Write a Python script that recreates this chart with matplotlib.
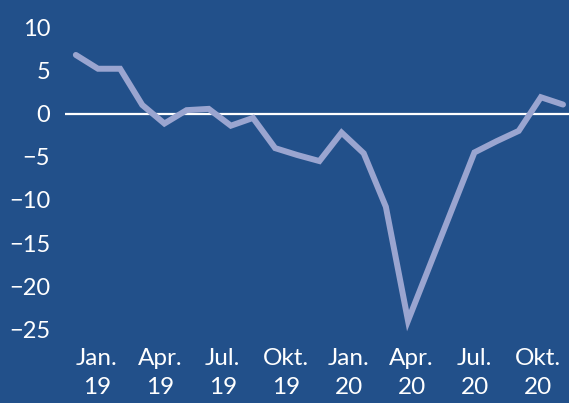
import matplotlib
matplotlib.use("Agg")
import matplotlib.pyplot as plt
import numpy as np

# Monthly values, Jan 2019 .. Nov 2020
months = ["Jan 19", "Feb 19", "Mar 19", "Apr 19", "May 19", "Jun 19", "Jul 19", "Aug 19",
          "Sep 19", "Oct 19", "Nov 19", "Dec 19", "Jan 20", "Feb 20", "Mar 20", "Apr 20",
          "May 20", "Jun 20", "Jul 20", "Aug 20", "Sep 20", "Oct 20", "Nov 20"]
values = [6.8, 5.2, 5.2, 1.0, -1.15, 0.4, 0.55, -1.4, -0.5, -4.0, -4.8, -5.5,
          -2.2, -4.6, -10.8, -24.0, -17.5, -11.0, -4.5, -3.2, -2.0, 1.9, 1.05]
tick_labels = ["Jan.\n19", "Apr.\n19", "Jul.\n19", "Okt.\n19",
               "Jan.\n20", "Apr.\n20", "Jul.\n20", "Okt.\n20"]
y_ticks = [10, 5, 0, -5, -10, -15, -20, -25]

BG = "#22508a"
LINE = "#9aa5d0"

plt.rcParams['font.family'] = ['Lato', 'DejaVu Sans']

fig = plt.figure(figsize=(5.69, 4.03), dpi=100, facecolor=BG)
ax = fig.add_axes([0.115, 0.140, 0.885, 0.835])
ax.set_facecolor(BG)

x = np.arange(len(values))
x0, x1 = -0.47, 22.27
ax.set_xlim(x0, x1)
ax.set_ylim(-27, 12)

ax.axhline(0, color="white", lw=1.6, zorder=1)
ax.plot(x, values, color=LINE, lw=4.3, solid_capstyle='round', solid_joinstyle='miter', zorder=2)

slot = (x1 - x0) / len(tick_labels)
ax.set_xticks([x0 + (k + 0.5) * slot for k in range(len(tick_labels))])
ax.set_xticklabels(tick_labels, fontsize=17.5, color="white", linespacing=1.45, multialignment='center')
ax.set_yticks(y_ticks)
ax.set_yticklabels([f"{v}".replace("-", "\u2212") for v in y_ticks], fontsize=17, color="white")
ax.tick_params(axis='both', length=0)
ax.tick_params(axis='x', pad=1)
ax.tick_params(axis='y', pad=11)

for s in ax.spines.values():
    s.set_visible(False)

fig.savefig("out.png", dpi=100, facecolor=BG)
